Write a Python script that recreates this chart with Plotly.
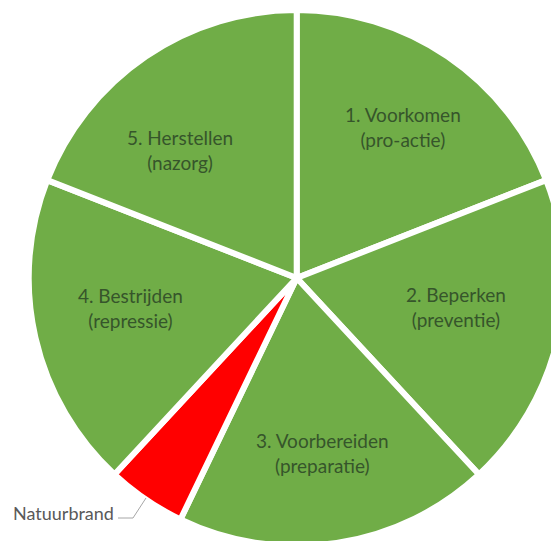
import plotly.graph_objects as go

labels = ["1. Voorkomen", "2. Beperken", "3. Voorbereiden", "Natuurbrand", "4. Bestrijden", "5. Herstellen"]
subtitles = ["(pro-actie)", "(preventie)", "(preparatie)", "", "(repressie)", "(nazorg)"]
values = [20, 20, 20, 5, 20, 20]
colors = ["#70AD47", "#70AD47", "#70AD47", "#FF0000", "#70AD47", "#70AD47"]

# label block centres (pixels in the page)
label_pos = [(403, 127), (456, 307), (322, 453), None, (130, 308), (180, 150)]

W, H = 593, 556
cx, cy, r = 296.7, 278.0, 268.0

fig = go.Figure(go.Pie(
    labels=labels,
    values=values,
    textinfo="none",
    sort=False,
    direction="clockwise",
    rotation=0,
    marker=dict(colors=colors, line=dict(color="white", width=6)),
    hoverinfo="label+value",
    showlegend=False,
    domain=dict(x=[(cx - r) / W, (cx + r) / W], y=[1 - (cy + r) / H, 1 - (cy - r) / H]),
))

for lab, sub, pos in zip(labels, subtitles, label_pos):
    if pos is None:
        continue
    fig.add_annotation(x=pos[0] / W, y=1 - pos[1] / H, xref="paper", yref="paper",
                       xanchor="center", yanchor="middle", align="center",
                       text=f"{lab}<br>{sub}", showarrow=False,
                       font=dict(family="Lato", size=19, color="#36552b"))

# Natuurbrand label with leader line
fig.add_annotation(x=11 / W, y=1 - 513 / H, xref="paper", yref="paper", xanchor="left", yanchor="middle",
                   text=labels[3], showarrow=False, font=dict(family="Lato", size=18, color="#595959"))
fig.add_shape(type="path", xref="paper", yref="paper",
              path=f"M {118 / W} {1 - 518 / H} L {133 / W} {1 - 518 / H} L {146 / W} {1 - 498 / H}",
              line=dict(color="#A6A6A6", width=1))

fig.update_layout(width=W, height=H, margin=dict(l=0, r=0, t=0, b=0),
                  paper_bgcolor="white", plot_bgcolor="white")
fig.write_html("out.html", config={"displayModeBar": False},
               post_script="document.body.style.margin='0';document.body.style.overflow='hidden';"
                           "document.documentElement.style.overflow='hidden';")
